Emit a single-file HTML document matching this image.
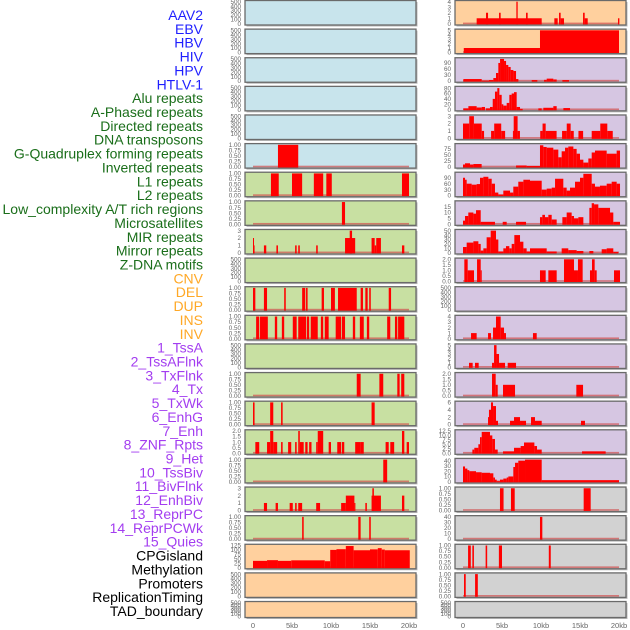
<!DOCTYPE html>
<html><head><meta charset="utf-8"><style>
html,body{margin:0;padding:0;background:#fff;width:630px;height:630px;overflow:hidden}
svg{display:block;font-family:"Liberation Sans",sans-serif}
</style></head><body>
<svg id="chart" width="630" height="630" viewBox="0 0 630 630"></svg>
<script>
// ---- track labels ----
const labelNames = ["AAV2","EBV","HBV","HIV","HPV","HTLV-1",
"Alu repeats","A-Phased repeats","Directed repeats","DNA transposons","G-Quadruplex forming repeats","Inverted repeats","L1 repeats","L2 repeats","Low_complexity A/T rich regions","Microsatellites","MIR repeats","Mirror repeats","Z-DNA motifs",
"CNV","DEL","DUP","INS","INV",
"1_TssA","2_TssAFlnk","3_TxFlnk","4_Tx","5_TxWk","6_EnhG","7_Enh","8_ZNF_Rpts","9_Het","10_TssBiv","11_BivFlnk","12_EnhBiv","13_ReprPC","14_ReprPCWk","15_Quies",
"CPGisland","Methylation","Promoters","ReplicationTiming","TAD_boundary"];
const labelGroups = [6,13,5,15,5];
const groupColors = ["#1f1fff","#1a6e1a","#ffa826","#a33df0","#000000"];

// ---- x axis ----
const xTicks = [0,5,10,15,20];
const xTickLabels = ["0","5kb","10kb","15kb","20kb"];

// ---- panel y ranges and ticks ----
const emptyTicks = [0,100,200,300,400,500];
const unitTicks = [0,0.25,0.5,0.75,1];
const leftYMax = [500,500,500,500,500,1,1,1,3,500,1,1,500,1,1,2,1,3,1,125,500,500];
const leftYTicks = [emptyTicks,emptyTicks,emptyTicks,emptyTicks,emptyTicks,unitTicks,unitTicks,unitTicks,[0,1,2,3],emptyTicks,unitTicks,unitTicks,emptyTicks,unitTicks,unitTicks,[0,0.5,1,1.5,2],unitTicks,[0,1,2,3],unitTicks,[0,25,50,75,100,125],emptyTicks,emptyTicks];
const rightYMax = [4,5,110,82,3,92,112,19,50,2,500,4,5,2,6,12.5,42,1,40,1,1,500];
const rightYTicks = [[0,1,2,3,4],[0,1,2,3,4,5],[0,30,60,90],[0,20,40,60,80],[0,1,2,3],[0,25,50,75],[0,30,60,90],[0,5,10,15],[0,10,20,30,40,50],[0,0.5,1,1.5,2],emptyTicks,[0,1,2,3,4],[0,1,2,3,4,5],[0,0.5,1,1.5,2],[0,2,4,6],[0,2.5,5,7.5,10,12.5],[0,10,20,30,40],unitTicks,[0,10,20,30,40],unitTicks,unitTicks,emptyTicks];
const leftColors = ["#c8e4ec","#c8e4ec","#c8e4ec","#c8e4ec","#c8e4ec","#c8e4ec","#c8e0a2","#c8e0a2","#c8e0a2","#c8e0a2","#c8e0a2","#c8e0a2","#c8e0a2","#c8e0a2","#c8e0a2","#c8e0a2","#c8e0a2","#c8e0a2","#c8e0a2","#ffd09e","#ffd09e","#ffd09e"];
const rightColors = ["#ffd09e","#ffd09e","#d6c6e2","#d6c6e2","#d6c6e2","#d6c6e2","#d6c6e2","#d6c6e2","#d6c6e2","#d6c6e2","#d6c6e2","#d6c6e2","#d6c6e2","#d6c6e2","#d6c6e2","#d6c6e2","#d6c6e2","#d2d2d2","#d2d2d2","#d2d2d2","#d2d2d2","#d2d2d2"];

// ---- segment data [startKb, endKb, value] ----
const leftSegs = [
 [],[],[],[],[],
 [[3.2,5.8,1]],
 [[2.3,3.3,1],[5.0,6.3,1],[7.8,9.0,1],[9.4,10.1,1],[19.1,20.0,1]],
 [[11.4,11.8,1]],
 [[0,0.2,1],[0,0.1,2],[1.4,1.7,1],[3.0,3.2,1],[5.4,5.6,1],[5.8,6.0,1],[8.1,8.3,1],[11.8,13.1,2],[12.4,12.7,3],[15.2,15.6,2],[15.6,15.8,1],[15.8,16.4,2],[19.1,19.4,1]],
 [],
 [[0,0.3,1],[1.4,1.8,1],[4.0,4.2,1],[6.3,6.7,1],[6.8,7.0,1],[8.8,9.1,1],[10.0,10.5,1],[10.9,13.3,1],[13.8,14.1,1],[14.4,14.7,1],[14.9,15.1,1],[17.4,17.7,1]],
 [[0.4,0.8,1],[0.9,1.9,1],[2.8,3.1,1],[3.7,4.0,1],[5.1,5.6,1],[5.8,6.8,1],[6.9,7.2,1],[7.4,8.3,1],[8.7,9.0,1],[9.2,9.7,1],[10.6,11.3,1],[11.4,11.8,1],[12.8,13.1,1],[13.7,14.2,1],[14.6,14.9,1],[17.2,17.6,1],[18.2,18.5,1],[18.6,19.4,1]],
 [],
 [[13.3,13.8,1],[16.2,16.7,1],[18.5,18.8,1],[19.0,19.4,1]],
 [[0,0.2,1],[2.2,2.6,1],[3.6,3.8,1],[15.2,15.6,1]],
 [[0.3,0.8,1],[1.8,2.2,1],[2.2,2.6,2],[2.6,3.1,1],[3.6,3.8,1],[4.5,4.9,1],[5.4,5.6,1],[5.8,6.0,2],[6.0,6.5,1],[6.7,7.0,1],[7.2,7.5,1],[8.1,8.3,1],[8.3,9.0,2],[9.7,10.0,1],[10.8,11.3,1],[11.4,11.7,1],[13.1,13.8,1],[13.8,14.2,1],[17.0,17.4,1],[17.6,18.1,1],[19.1,19.4,2],[19.7,20.0,1]],
 [[16.7,17.2,1]],
 [[1.4,1.8,1],[2.9,3.2,1],[4.7,5.1,1],[5.4,5.6,1],[5.8,6.3,1],[8.1,8.6,1],[11.3,11.9,1],[11.9,13.0,2],[13.0,13.1,1],[14.4,14.6,1],[15.2,16.4,2],[15.3,15.5,3],[19.1,19.4,2]],
 [[6.3,6.5,1],[13.5,13.8,1],[14.9,15.1,1]],
 [[0,1.8,38],[1.8,3.2,42],[3.2,4.9,38],[4.9,9.2,41],[9.2,9.9,36],[9.9,10.7,100],[10.7,11.9,104],[11.9,12.9,122],[12.9,15.0,98],[15.0,16.0,103],[16.0,16.5,110],[16.5,16.9,102],[16.9,20.1,98]],
 [],[]
];
const rightSegs = [
 [[1.75,10.09,1],[2.95,3.21,2],[4.62,4.83,2],[6.84,7.01,4],[8.08,8.29,2],[11.71,12.14,1],[12.31,12.52,2],[12.52,12.95,1],[15.39,15.6,2],[15.6,15.99,1],[19.87,20.05,1]],
 [[0.1,9.87,1],[9.87,20.0,5]],
 [[0.05,2.4,10],[2.4,3.34,2],[3.34,3.89,5],[3.89,4.23,15],[4.23,4.53,40],[4.53,4.75,90],[4.75,5.26,110],[5.26,5.52,100],[5.52,5.81,80],[5.81,6.11,70],[6.11,6.46,55],[6.46,6.8,50],[6.8,7.1,10],[8.81,9.53,5],[10.39,10.73,6],[10.73,11.58,12],[11.58,12.01,8],[12.74,13.59,5]],
 [[0.05,0.69,5],[0.69,1.75,13],[1.75,2.4,8],[2.4,2.82,10],[2.95,3.46,5],[3.46,3.81,10],[3.81,4.1,40],[4.1,4.4,67],[4.4,4.66,80],[4.66,4.96,55],[4.96,5.17,20],[5.17,5.6,15],[5.6,5.94,25],[5.94,6.24,55],[6.24,6.54,60],[6.54,6.88,65],[6.88,7.31,10],[7.31,7.65,3],[9.66,10.09,5],[10.3,11.58,7],[11.58,12.01,13],[12.87,13.72,6]],
 [[0,0.8,2],[0.8,1.4,3],[1.4,2.4,2],[2.4,2.7,1],[3.6,4.0,1],[4.0,4.9,2],[4.9,5.4,1],[6.4,6.5,1],[6.5,7.0,3],[7.0,7.3,1],[9.9,10.2,1],[10.2,10.6,2],[10.6,12.0,1],[12.7,13.3,1],[13.3,13.8,2],[13.8,14.2,1],[14.8,15.4,1],[16.5,17.6,1],[17.6,18.5,2],[18.5,19.2,1]],
 [[0,0.26,10],[0.26,0.9,15],[0.9,1.33,10],[1.33,2.39,12],[6.8,8.16,6],[8.16,9.87,4],[9.87,10.3,90],[10.3,10.73,83],[10.73,11.58,80],[11.58,12.22,72],[12.22,12.65,40],[12.65,13.08,65],[13.08,13.5,80],[13.5,14.15,85],[14.15,14.57,75],[14.57,15.0,55],[15.0,15.43,30],[15.43,16.07,18],[16.07,16.5,35],[16.5,16.92,60],[16.92,18.42,68],[18.42,19.7,55],[19.7,20.13,68]],
 [[0,0.26,90],[0.26,0.47,80],[0.47,1.11,60],[1.11,1.75,55],[1.75,2.18,58],[2.18,2.61,90],[2.61,3.25,95],[3.25,3.68,85],[3.68,4.1,60],[4.1,4.53,15],[4.53,5.17,5],[5.17,6.03,25],[6.03,6.45,15],[6.45,7.09,45],[7.09,7.74,70],[7.74,8.59,80],[8.59,10.09,75],[10.09,10.73,30],[10.73,11.37,35],[11.37,11.8,40],[11.8,12.86,85],[12.86,13.29,40],[13.29,13.72,25],[13.72,14.36,40],[14.36,15.0,70],[15.0,15.43,90],[15.43,16.5,110],[16.5,16.92,60],[16.92,17.56,45],[17.56,18.42,50],[18.42,19.06,60],[19.06,19.7,70],[19.7,20.13,60]],
 [[0,0.26,3],[0.26,0.68,7],[0.68,1.33,10],[1.33,1.67,9],[1.67,2.27,12],[2.27,4.1,2],[5.09,5.6,2],[6.8,8.08,2],[9.87,10.17,6],[10.17,10.51,8],[10.51,10.94,6],[10.94,11.37,8],[11.37,12.01,4],[12.74,13.29,6],[13.29,13.93,10],[13.93,14.23,7],[14.23,14.79,5],[14.79,15.43,6],[16.2,16.5,14],[16.5,16.8,18],[16.8,17.35,17],[17.35,18.85,14],[18.85,19.27,10],[19.27,20.13,2]],
 [[0,0.47,13],[0.47,1.33,23],[1.33,1.97,26],[1.97,2.27,20],[2.27,2.61,5],[2.61,3.03,10],[3.03,3.55,35],[3.55,4.23,50],[4.23,4.53,30],[4.53,5.17,3],[5.17,5.51,10],[5.51,5.94,15],[5.94,6.24,10],[6.24,6.58,20],[6.58,7.31,40],[7.31,7.74,25],[7.74,8.16,10],[8.16,8.59,3],[8.59,10.73,10],[10.73,12.01,3],[12.65,13.5,10],[13.5,14.57,6],[14.57,15.43,4],[16.2,16.71,4],[17.78,18.42,8],[18.42,19.27,10],[19.27,19.91,2]],
 [[0.17,0.6,2],[0.6,1.41,1],[1.8,2.27,2],[2.27,2.4,1],[9.87,10.6,1],[10.94,12.01,1],[12.95,14.23,2],[14.23,14.74,1],[14.74,15.34,2],[16.28,16.54,1],[16.54,16.88,2],[16.88,17.14,1],[19.36,20.13,1]],
 [],
 [[1.03,1.75,1],[3.21,3.59,1],[3.85,4.23,2],[4.23,4.83,4],[4.83,5.26,2],[5.26,5.51,1],[8.97,9.45,1]],
 [[0.77,1.24,1],[1.54,2.01,1],[3.72,3.98,1],[3.98,4.3,5],[4.3,4.62,3],[4.62,5.39,1],[5.73,6.8,1]],
 [[3.72,4.19,2],[4.19,4.45,1],[5.13,6.67,1],[14.53,15.39,1]],
 [[3.21,3.33,2],[3.33,3.59,4],[3.59,3.85,6],[3.85,4.23,5],[4.23,4.49,1],[6.03,6.54,1],[6.54,7.31,2],[7.31,8.08,1],[8.72,9.23,2],[9.23,10.09,1],[15.13,15.64,1]],
 [[1.2,1.45,2],[1.45,1.97,3],[1.97,2.18,5],[2.18,2.4,9],[2.4,3.46,12],[3.46,3.76,10],[3.76,4.1,8],[4.1,4.45,2],[5.13,6.54,1],[6.54,7.39,3],[7.39,7.82,4],[7.82,9.15,6],[9.15,9.49,4],[9.49,10.09,2],[15.26,18.29,1]],
 [[0,0.26,29],[0.26,0.56,25],[0.56,0.81,22],[0.81,1.67,20],[1.67,2.39,18],[2.39,3.46,17],[3.46,3.89,16],[3.89,4.1,8],[4.1,4.32,4],[4.32,4.74,1],[4.74,5.17,4],[5.17,5.6,6],[5.6,5.81,8],[5.81,6.45,10],[6.45,6.67,28],[6.67,7.09,36],[7.09,7.95,40],[7.95,10.09,42],[10.09,20.0,3]],
 [[4.74,5.2,1],[6.15,6.63,1],[15.47,16.37,1]],
 [[9.87,10.17,40]],
 [[0.65,1.0,1],[1.2,1.4,1],[2.9,3.1,1],[4.6,5.0,1],[11.0,11.25,1]],
 [[0.13,0.35,1],[1.55,1.9,1]],
 []
];

const NS = "http://www.w3.org/2000/svg";
const svg = document.getElementById("chart");
function mk(tag, attrs, parent){const e=document.createElementNS(NS,tag);for(const k in attrs)e.setAttribute(k,attrs[k]);(parent||svg).appendChild(e);return e;}

// labels
let li=0;
for(let g=0; g<labelGroups.length; g++){
  for(let j=0;j<labelGroups[g];j++){
    const t=mk("text",{x:203,y:15+li*13.86+5,"text-anchor":"end","font-size":"14",fill:groupColors[g]});
    t.textContent=labelNames[li];
    
    
    li++;
  }
}

const cols=[{x0:245,x1:416,zero:253,ymax:leftYMax,ticks:leftYTicks,colors:leftColors,segs:leftSegs,name:'left'},
            {x0:455,x1:626,zero:463,ymax:rightYMax,ticks:rightYTicks,colors:rightColors,segs:rightSegs,name:'right'}];
const pxPerKb=7.8;
function fmt(v,ticks){
  const dec = ticks.some(t=>Math.abs(t*100%100)>0.001 && (t*100%50)!==0) ? 2 : (ticks.some(t=>t%1!==0)? (ticks[ticks.length-1]<=2 && ticks.includes(0.5)?1:1):0);
  if(ticks.includes(0.25)) return v.toFixed(2);
  return v.toFixed(dec);
}
cols.forEach(c=>{
  const xs = kb=>c.zero+kb*pxPerKb;
  for(let i=0;i<22;i++){
    const top=i*28.62+0.5;
    const h = i===21?16:24.5;
    const bot=top+h;
    const g=mk("g",{});
    
    
    mk("rect",{x:c.x0+1.5,y:top+1.5,width:c.x1-c.x0,height:h,fill:"#b8b8b8"},g);
    const bg=mk("rect",{x:c.x0,y:top,width:c.x1-c.x0,height:h,fill:c.colors[i],stroke:"#6a6a6a","stroke-width":1.3},g);
    
    
    const ymax=c.ymax[i];
    const ys=v=>bot-1.2-(v/ymax)*(h-2.4);
    // ticks
    c.ticks[i].forEach(tv=>{
      const t=mk("text",{x:c.x0-4,y:ys(tv)+2.2,"text-anchor":"end","font-size":"6.3",fill:"#666"},g);
      t.textContent=fmt(tv,c.ticks[i]);
      
      
    });
    const segs=c.segs[i];
    if(segs.length){
      const base=mk("rect",{x:xs(0),y:bot-2.4,width:20*pxPerKb,height:1.6,fill:"#d05050",opacity:0.7},g);
      
      
      segs.forEach(s=>{
        const y=ys(s[2]);
        const r=mk("rect",{x:xs(s[0]),y:y,width:Math.max(1,(s[1]-s[0])*pxPerKb),height:ys(0)-y+0.6,fill:"#ff0000"},g);
        
        
      });
    }
  }
  xTicks.forEach((kb,k)=>{
    const t=mk("text",{x:xs(kb),y:628,"text-anchor":"middle","font-size":"7.5",fill:"#666"});
    t.textContent=xTickLabels[k];
    
    
  });
});
</script>
</body></html>
